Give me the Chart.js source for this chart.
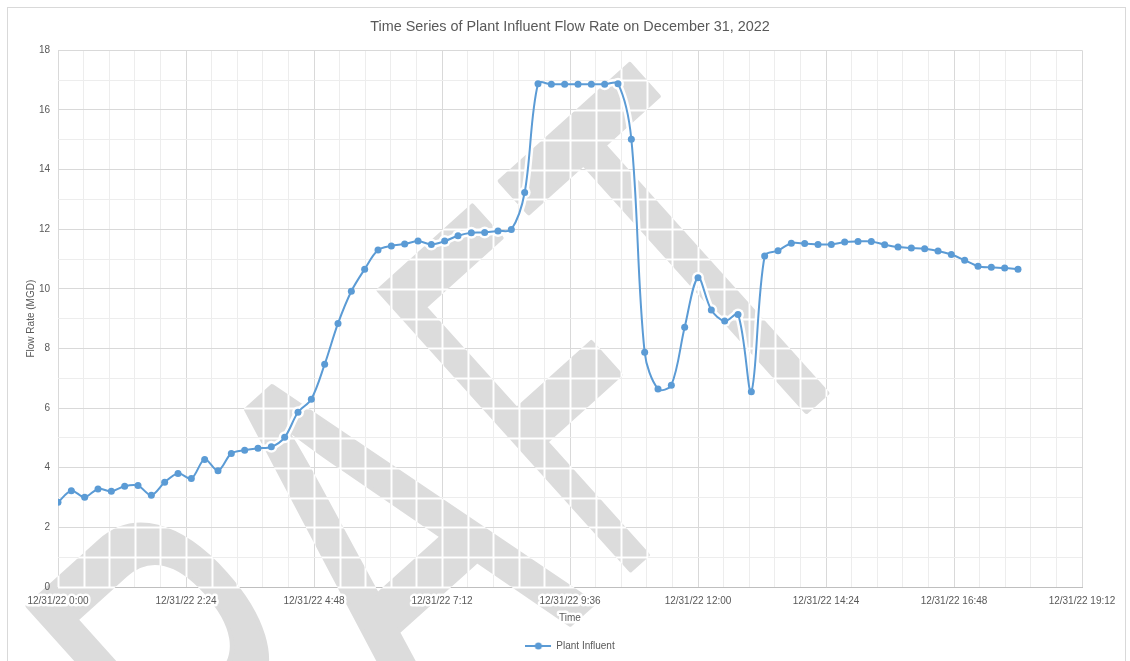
<!DOCTYPE html>
<html>
<head>
<meta charset="utf-8">
<title>Plant Influent Flow Rate</title>
<script src="https://cdn.jsdelivr.net/npm/chart.js@4/dist/chart.umd.min.js"></script>
<style>
  html, body { margin: 0; padding: 0; background: #ffffff; }
  canvas { display: block; }
</style>
</head>
<body>
<canvas id="flowChart" width="1130" height="661"></canvas>
<script>
// Sample times (15-minute readings) and influent flow in MGD
const timeLabels = [
  '0:00','0:15','0:30','0:45','1:00','1:15','1:30','1:45','2:00','2:15','2:30','2:45',
  '3:00','3:15','3:30','3:45','4:00','4:15','4:30','4:45','5:00','5:15','5:30','5:45',
  '6:00','6:15','6:30','6:45','7:00','7:15','7:30','7:45','8:00','8:15','8:30','8:45',
  '9:00','9:15','9:30','9:45','10:00','10:15','10:30','10:45','11:00','11:15','11:30','11:45',
  '12:00','12:15','12:30','12:45','13:00','13:15','13:30','13:45','14:00','14:15','14:30','14:45',
  '15:00','15:15','15:30','15:45','16:00','16:15','16:30','16:45','17:00','17:15','17:30','17:45',
  '18:00'
];
const flowMGD = [
  2.84, 3.23, 3.01, 3.29, 3.21, 3.38, 3.40, 3.08, 3.51, 3.81, 3.64, 4.28,
  3.90, 4.48, 4.59, 4.65, 4.70, 5.02, 5.86, 6.30, 7.47, 8.84, 9.92, 10.66,
  11.30, 11.44, 11.50, 11.60, 11.49, 11.60, 11.78, 11.88, 11.89, 11.94, 11.99, 13.23,
  16.88, 16.86, 16.86, 16.86, 16.86, 16.86, 16.88, 15.02, 7.87, 6.64, 6.77, 8.71,
  10.37, 9.29, 8.92, 9.14, 6.55, 11.10, 11.28, 11.53, 11.52, 11.49, 11.49, 11.57,
  11.59, 11.59, 11.48, 11.40, 11.37, 11.34, 11.27, 11.15, 10.96, 10.76, 10.72, 10.70,
  10.66
];
const xTickLabels = [
  '12/31/22 0:00', '12/31/22 2:24', '12/31/22 4:48', '12/31/22 7:12', '12/31/22 9:36',
  '12/31/22 12:00', '12/31/22 14:24', '12/31/22 16:48', '12/31/22 19:12'
];
const yTickLabels = ['0', '2', '4', '6', '8', '10', '12', '14', '16', '18'];

const seriesName = 'Plant Influent';
const xTitle = 'Time';
const stampText = 'DRAFT';

// Styling
const LINE_BLUE = '#5b9bd5';
const TEXT_GRAY = '#595959';
const GRID_MAJOR = '#d9d9d9';
const GRID_MINOR = '#ededed';
const STAMP_GRAY = '#dcdcdc';
const LABEL_FONT = '10px "Liberation Sans", Arial, sans-serif';

// Stamp layout: letters sit on a baseline tilted 42° upward, measured from an anchor point
const STAMP_ANCHOR = { x: 835, y: 385 };
const STAMP_ANGLE = 42 * Math.PI / 180;
const STAMP_LETTER_POS = [-999, -773, -550, -298, -120];
const STAMP_LETTER_SQUEEZE = [0.55, 0.55, 0.62, 0.48, 0.57];
const STAMP_FONT_PX = 545;

// Axis spacing: major every 2:24 (144 min) split into five minor steps
const MAJOR_MIN = 144;
const MINOR_PER_MAJOR = 5;
const X_MAX_MIN = MAJOR_MIN * (xTickLabels.length - 1);

const toMinutes = t => {
  const [h, m] = t.split(':').map(Number);
  return h * 60 + m;
};

const points = timeLabels.map((t, i) => ({ x: toMinutes(t), y: flowMGD[i] }));

Chart.defaults.font.family = '"Liberation Sans", Arial, sans-serif';
Chart.defaults.color = TEXT_GRAY;

// Legend marker: short line with a dot, like the series itself
function legendMarker() {
  const c = document.createElement('canvas');
  c.width = 26; c.height = 10;
  const g = c.getContext('2d');
  g.strokeStyle = LINE_BLUE; g.lineWidth = 2;
  g.beginPath(); g.moveTo(0, 5); g.lineTo(26, 5); g.stroke();
  g.fillStyle = LINE_BLUE;
  g.beginPath(); g.arc(13, 5, 3.5, 0, Math.PI * 2); g.fill();
  return c;
}

// Large tilted stamp behind the series; grid seams, labels and the series keep a white margin across it
const draftStamp = {
  id: 'draftStamp',
  beforeDatasetsDraw(chart) {
    const { ctx, width, height, chartArea, scales } = chart;
    const off = document.createElement('canvas');
    off.width = width; off.height = height;
    const g = off.getContext('2d');
    const bx = Math.cos(STAMP_ANGLE), by = -Math.sin(STAMP_ANGLE);
    g.font = STAMP_FONT_PX + 'px "Liberation Sans", Arial, sans-serif';
    g.textBaseline = 'alphabetic';
    g.fillStyle = STAMP_GRAY;
    g.strokeStyle = STAMP_GRAY;
    g.lineJoin = 'round';
    g.lineWidth = 6;
    stampText.split('').forEach((ch, i) => {
      const s = STAMP_LETTER_POS[i];
      g.save();
      g.translate(STAMP_ANCHOR.x + s * bx, STAMP_ANCHOR.y + s * by);
      g.rotate(-STAMP_ANGLE);
      g.scale(STAMP_LETTER_SQUEEZE[i], 1);
      g.fillText(ch, 0, 0);
      g.strokeText(ch, 0, 0);
      g.restore();
    });

    // white seams where the grid crosses the stamp
    g.globalCompositeOperation = 'source-atop';
    g.strokeStyle = '#ffffff';
    g.fillStyle = '#ffffff';
    g.lineWidth = 2;
    g.beginPath();
    scales.x.ticks.forEach(t => {
      const p = Math.round(scales.x.getPixelForValue(t.value)) + 0.5;
      g.moveTo(p, chartArea.top); g.lineTo(p, chartArea.bottom);
    });
    scales.y.ticks.forEach(t => {
      const p = Math.round(scales.y.getPixelForValue(t.value)) + 0.5;
      g.moveTo(chartArea.left, p); g.lineTo(chartArea.right, p);
    });
    g.stroke();

    // white halo along the series
    const meta = chart.getDatasetMeta(0);
    if (meta && meta.dataset) {
      g.lineWidth = 7;
      g.lineJoin = 'round';
      g.beginPath();
      meta.dataset.path(g);
      g.stroke();
      meta.data.forEach(pt => {
        g.beginPath(); g.arc(pt.x, pt.y, 6, 0, Math.PI * 2); g.fill();
      });
    }

    // keep axis text clear of the stamp
    g.globalCompositeOperation = 'destination-out';
    g.font = LABEL_FONT;
    g.textAlign = 'center';
    g.textBaseline = 'middle';
    g.lineWidth = 5;
    g.lineJoin = 'round';
    g.strokeStyle = '#000';
    const labelY = scales.x.top + 8 + 6;
    xTickLabels.forEach((lab, i) => {
      const px = scales.x.getPixelForValue(i * MAJOR_MIN);
      g.strokeText(lab, px, labelY);
      g.fillText(lab, px, labelY);
    });
    const titleY = scales.x.bottom - 7 - 6;
    const titleX = (chartArea.left + chartArea.right) / 2;
    g.strokeText(xTitle, titleX, titleY);
    g.fillText(xTitle, titleX, titleY);

    ctx.drawImage(off, 0, 0);
  }
};

// Thin frame around the whole chart
const chartFrame = {
  id: 'chartFrame',
  afterDraw(chart) {
    const { ctx } = chart;
    ctx.save();
    ctx.strokeStyle = '#d9d9d9';
    ctx.lineWidth = 1;
    ctx.strokeRect(7.5, 7.5, 1118, 670);
    ctx.restore();
  }
};

new Chart(document.getElementById('flowChart'), {
  type: 'line',
  data: {
    datasets: [{
      label: seriesName,
      data: points,
      borderColor: LINE_BLUE,
      backgroundColor: LINE_BLUE,
      borderWidth: 2,
      pointRadius: 3.5,
      pointBorderWidth: 0,
      pointBackgroundColor: LINE_BLUE,
      tension: 0.33,
      fill: false
    }]
  },
  options: {
    responsive: false,
    animation: false,
    layout: { padding: { left: 10, right: 48, top: 0, bottom: 0 } },
    plugins: {
      title: {
        display: true,
        fullSize: false,
        text: 'Time Series of Plant Influent Flow Rate on December 31, 2022',
        color: TEXT_GRAY,
        font: { size: 14.4, weight: 'normal' },
        padding: { top: 18, bottom: 15 }
      },
      legend: {
        display: true,
        position: 'bottom',
        fullSize: false,
        labels: {
          usePointStyle: true,
          pointStyle: legendMarker(),
          pointStyleWidth: 26,
          color: TEXT_GRAY,
          font: { size: 10 },
          padding: 10
        }
      },
      tooltip: { enabled: false }
    },
    scales: {
      x: {
        type: 'linear',
        min: 0,
        max: X_MAX_MIN,
        afterBuildTicks(scale) {
          const n = (xTickLabels.length - 1) * MINOR_PER_MAJOR;
          scale.ticks = Array.from({ length: n + 1 }, (_, i) => ({ value: i * MAJOR_MIN / MINOR_PER_MAJOR }));
        },
        afterFit(scale) { scale.height = 44; },
        ticks: {
          autoSkip: false,
          maxRotation: 0,
          padding: 8,
          z: 1,
          color: TEXT_GRAY,
          font: { size: 10 },
          callback(value, index) {
            return index % MINOR_PER_MAJOR === 0 ? xTickLabels[index / MINOR_PER_MAJOR] : '';
          }
        },
        grid: {
          drawTicks: false,
          tickLength: 0,
          color: ctx => (ctx.index % MINOR_PER_MAJOR === 0 ? GRID_MAJOR : GRID_MINOR),
          lineWidth: 1
        },
        border: { display: true, color: '#bfbfbf', width: 1 },
        title: {
          display: true,
          text: xTitle,
          color: TEXT_GRAY,
          font: { size: 10 },
          padding: { top: 5, bottom: 7 }
        }
      },
      y: {
        min: 0,
        max: 18,
        afterFit(scale) { scale.width = 48; },
        ticks: {
          stepSize: 1,
          autoSkip: false,
          padding: 8,
          z: 1,
          color: TEXT_GRAY,
          font: { size: 10 },
          callback(value) {
            return value % 2 === 0 ? yTickLabels[value / 2] : '';
          }
        },
        grid: {
          drawTicks: false,
          tickLength: 0,
          color: ctx => (ctx.tick && ctx.tick.value % 2 === 0 ? GRID_MAJOR : GRID_MINOR),
          lineWidth: 1
        },
        border: { display: false },
        title: {
          display: true,
          text: 'Flow Rate (MGD)',
          color: TEXT_GRAY,
          font: { size: 10 },
          padding: { top: 15, bottom: 4 }
        }
      }
    }
  },
  plugins: [draftStamp, chartFrame]
});
</script>
</body>
</html>
